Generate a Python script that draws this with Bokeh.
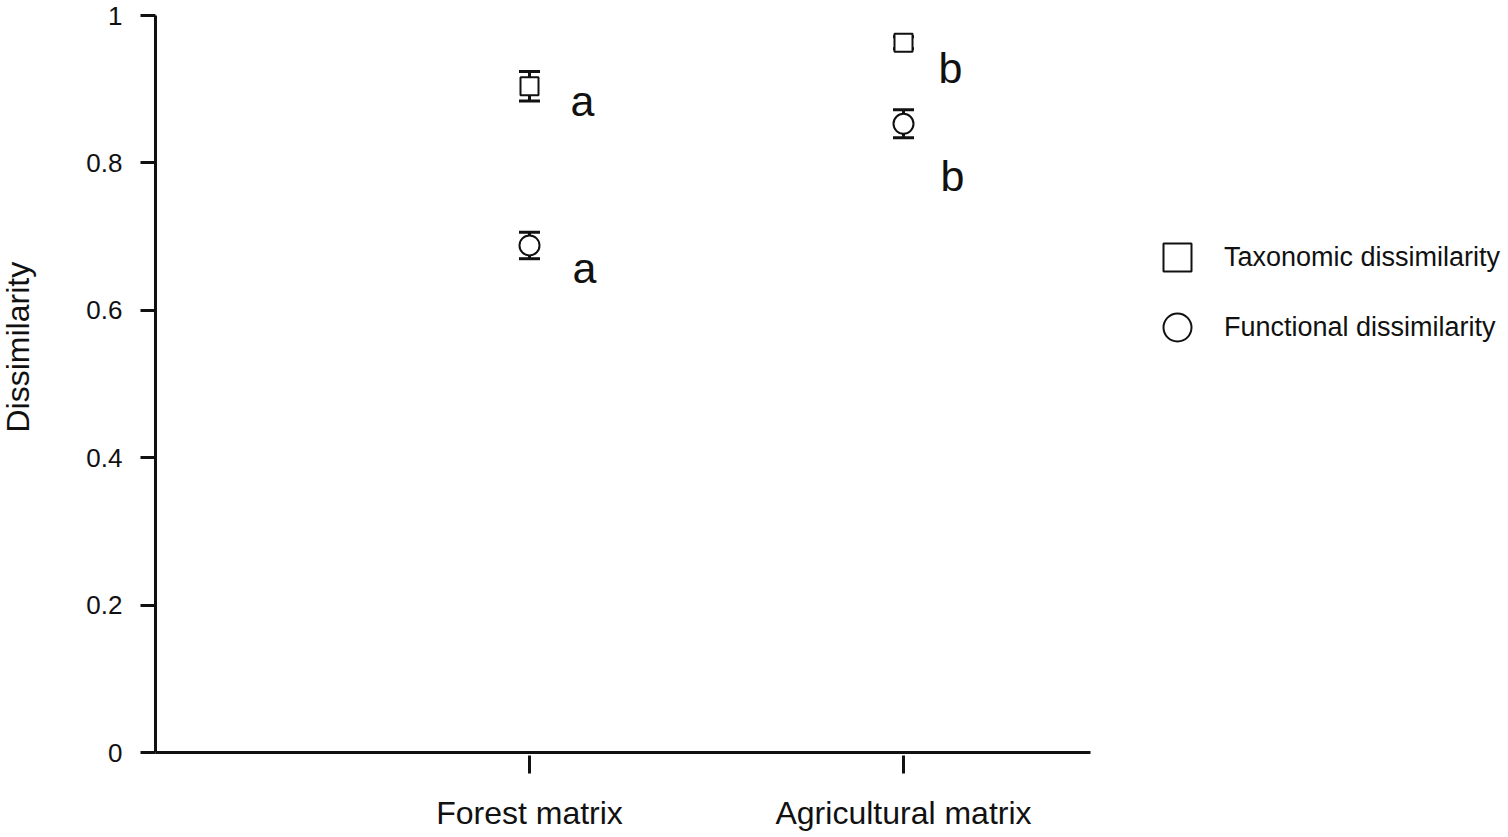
import math
from bokeh.plotting import figure
from bokeh.models import (ColumnDataSource, Range1d, FixedTicker, Whisker, TeeHead,
                          Legend, LegendItem, CustomJSTickFormatter, Label)
from bokeh.core.properties import value
from bokeh.embed import file_html
from bokeh.resources import INLINE

# ---- data ----
categories = ["Forest matrix", "Agricultural matrix"]
tax_mean = [0.904, 0.963]
tax_err = [0.020, 0.008]
fun_mean = [0.688, 0.853]
fun_err = [0.018, 0.019]
tax_letters = ["a", "b"]
fun_letters = ["a", "b"]
y_ticks = [0, 0.2, 0.4, 0.6, 0.8, 1]

FONT = "Liberation Sans"
INK = "#111111"

xpos = [i + 1 for i in range(len(categories))]

tax_src = ColumnDataSource(dict(
    x=xpos, y=tax_mean,
    upper=[m + e for m, e in zip(tax_mean, tax_err)],
    lower=[m - e for m, e in zip(tax_mean, tax_err)],
    letter=tax_letters, dx=[53, 47], dy=[15, 25]))
fun_src = ColumnDataSource(dict(
    x=xpos, y=fun_mean,
    upper=[m + e for m, e in zip(fun_mean, fun_err)],
    lower=[m - e for m, e in zip(fun_mean, fun_err)],
    letter=fun_letters, dx=[55, 49], dy=[23, 52]))

W, H = 1505, 835
LEFT, BOTTOM = 155, 83
FW = W - LEFT
FH = H - BOTTOM
PX_PER_X = 374.0
PX_PER_Y = FH - 15

p = figure(width=W, height=H, output_backend="svg", toolbar_location=None,
           x_range=Range1d(0, FW / PX_PER_X), y_range=Range1d(0, FH / PX_PER_Y),
           min_border_left=LEFT, min_border_right=0, min_border_top=0,
           min_border_bottom=BOTTOM)
p.outline_line_color = None
p.xgrid.visible = False
p.ygrid.visible = False
p.background_fill_color = "white"
p.border_fill_color = "white"

# y axis
ya = p.yaxis[0]
ya.ticker = FixedTicker(ticks=y_ticks)
ya.formatter = CustomJSTickFormatter(code="return tick.toString()")
ya.bounds = (0, 1)
ya.axis_line_width = 3
ya.axis_line_color = INK
ya.major_tick_line_width = 3
ya.major_tick_line_color = INK
ya.major_tick_in = 0
ya.major_tick_out = 15
ya.minor_tick_line_color = None
ya.major_label_text_font = FONT
ya.major_label_text_font_size = "26px"
ya.major_label_text_color = INK
ya.major_label_standoff = 18

ylab = Label(x=-30, y=320, x_units="screen", y_units="screen", text="Dissimilarity",
             angle=math.pi / 2, text_align="left", text_baseline="middle",
             text_font=FONT, text_font_size="32px", text_color=INK)
p.add_layout(ylab, "left")

# x axis
xa = p.xaxis[0]
xa.ticker = FixedTicker(ticks=xpos)
xa.major_label_overrides = {x: c for x, c in zip(xpos, categories)}
xa.bounds = (0, 2.5)
xa.axis_line_width = 3
xa.axis_line_color = INK
xa.major_tick_line_width = 3
xa.major_tick_line_color = INK
xa.major_tick_in = -3
xa.major_tick_out = 21
xa.minor_tick_line_color = None
xa.major_label_text_font = FONT
xa.major_label_text_font_size = "32px"
xa.major_label_text_color = INK
xa.major_label_standoff = 21

# error bars
for src in (tax_src, fun_src):
    w = Whisker(source=src, base="x", upper="upper", lower="lower",
                line_width=3, line_color=INK,
                upper_head=TeeHead(size=21, line_width=3, line_color=INK),
                lower_head=TeeHead(size=21, line_width=3, line_color=INK))
    p.add_layout(w)

r_tax = p.scatter("x", "y", source=tax_src, marker="square", size=18,
                  fill_color="white", line_color=INK, line_width=2)
r_fun = p.scatter("x", "y", source=fun_src, marker="circle", size=20,
                  fill_color="white", line_color=INK, line_width=2)

for src in (tax_src, fun_src):
    p.text("x", "y", text="letter", source=src, x_offset="dx", y_offset="dy",
           text_font=value(FONT), text_font_size="43px", text_color=INK,
           text_align="center", text_baseline="alphabetic")

legend = Legend(items=[LegendItem(label="Taxonomic dissimilarity", renderers=[r_tax]),
                       LegendItem(label="Functional dissimilarity", renderers=[r_fun])],
                location=(977, 380), orientation="vertical",
                glyph_width=70, glyph_height=70, spacing=-11, label_standoff=12,
                label_text_font=FONT, label_text_font_size="27px",
                label_text_color=INK, background_fill_alpha=0,
                border_line_alpha=0, padding=10, margin=0)
p.add_layout(legend, "center")

open("out.html", "w").write(file_html(p, INLINE))
